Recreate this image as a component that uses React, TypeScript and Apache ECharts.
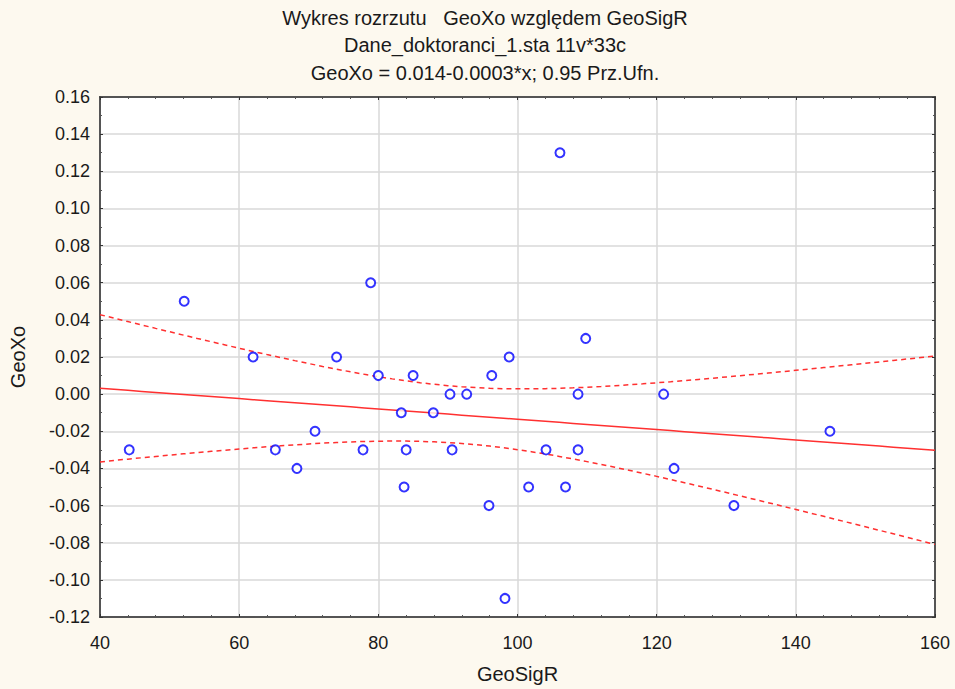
import React, { useEffect, useRef } from "react";
import * as echarts from "echarts";

// GeoSigR (x) and GeoXo (y) for the 33 cases
const geoSigR = [
  44.2, 52.1, 62.0, 65.2, 68.3, 70.9, 74.0, 77.8, 78.9, 80.0, 83.3, 83.7, 84.0, 85.0, 87.9, 90.3, 90.6,
  92.7, 95.9, 96.3, 98.2, 98.8, 101.6, 104.1, 106.1, 106.9, 108.7, 108.7, 109.8, 121.0, 122.5, 131.1, 144.9,
];
const geoXo = [
  -0.03, 0.05, 0.02, -0.03, -0.04, -0.02, 0.02, -0.03, 0.06, 0.01, -0.01, -0.05, -0.03, 0.01, -0.01, 0.0, -0.03,
  0.0, -0.06, 0.01, -0.11, 0.02, -0.05, -0.03, 0.13, -0.05, 0.0, -0.03, 0.03, 0.0, -0.04, -0.06, -0.02,
];

const titleLines = [
  "Wykres rozrzutu   GeoXo względem GeoSigR",
  "Dane_doktoranci_1.sta 11v*33c",
  "GeoXo = 0.014-0.0003*x; 0.95 Prz.Ufn.",
];

const X_MIN = 40;
const X_MAX = 160;
const Y_MIN = -0.12;
const Y_MAX = 0.16;
const T_975 = 2.0395; // Student t, 31 degrees of freedom

const FONT = "'Liberation Sans', Arial, sans-serif";

// Least-squares line with its 95% confidence band for the mean
function fit() {
  const n = geoSigR.length;
  const mx = geoSigR.reduce((a, b) => a + b, 0) / n;
  const my = geoXo.reduce((a, b) => a + b, 0) / n;
  let sxx = 0;
  let sxy = 0;
  for (let i = 0; i < n; i++) {
    sxx += (geoSigR[i] - mx) ** 2;
    sxy += (geoSigR[i] - mx) * (geoXo[i] - my);
  }
  const b = sxy / sxx;
  const a = my - b * mx;
  let sse = 0;
  for (let i = 0; i < n; i++) sse += (geoXo[i] - a - b * geoSigR[i]) ** 2;
  const s = Math.sqrt(sse / (n - 2));
  const line: number[][] = [];
  const upper: number[][] = [];
  const lower: number[][] = [];
  for (let x = X_MIN; x <= X_MAX + 1e-9; x += 2) {
    const yh = a + b * x;
    const hw = T_975 * s * Math.sqrt(1 / n + (x - mx) ** 2 / sxx);
    line.push([x, yh]);
    upper.push([x, yh + hw]);
    lower.push([x, yh - hw]);
  }
  return { line, upper, lower };
}

export default function App() {
  const ref = useRef<HTMLDivElement>(null);

  useEffect(() => {
    if (!ref.current) return;
    const chart = echarts.init(ref.current, null, { renderer: "svg" });
    const { line, upper, lower } = fit();
    const pts = geoSigR.map((x, i) => [x, geoXo[i]]);

    const frameLine = { show: true, onZero: false, lineStyle: { color: "#333", width: 1.5 } };
    const frameTick = { show: true, inside: true, length: 3, lineStyle: { color: "#333", width: 1 } };

    chart.setOption({
      animation: false,
      backgroundColor: "#fdf9ef",
      textStyle: { fontFamily: FONT },
      title: {
        text: titleLines.join("\n"),
        left: 485,
        top: 4,
        padding: 0,
        textAlign: "center",
        textStyle: { fontFamily: FONT, fontSize: 20, fontWeight: "normal", color: "#1a1a1a", lineHeight: 27.5 },
      },
      grid: {
        left: 100,
        top: 97,
        width: 835,
        height: 525,
        show: true,
        backgroundColor: "#ffffff",
        borderColor: "#333",
        borderWidth: 1.5,
      },
      xAxis: [
        {
          type: "value",
          min: X_MIN,
          max: X_MAX,
          interval: 20,
          name: "GeoSigR",
          nameLocation: "middle",
          nameGap: 47,
          nameTextStyle: { fontFamily: FONT, fontSize: 20, color: "#1a1a1a" },
          axisLine: frameLine,
          axisTick: frameTick,
          minorTick: { show: true, splitNumber: 5, length: 2, lineStyle: { color: "#555" } },
          axisLabel: { fontFamily: FONT, fontSize: 18, color: "#1a1a1a", margin: 17 },
          splitLine: { show: true, lineStyle: { color: "#d9d9d9", width: 1.5 } },
        },
        {
          type: "value",
          position: "top",
          min: X_MIN,
          max: X_MAX,
          interval: 20,
          axisLine: frameLine,
          axisTick: frameTick,
          minorTick: { show: true, splitNumber: 5, length: 2, lineStyle: { color: "#555" } },
          axisLabel: { show: false },
          splitLine: { show: false },
        },
      ],
      yAxis: [
        {
          type: "value",
          min: Y_MIN,
          max: Y_MAX,
          interval: 0.02,
          name: "GeoXo",
          nameLocation: "middle",
          nameGap: 72,
          nameTextStyle: { fontFamily: FONT, fontSize: 20, color: "#1a1a1a" },
          axisLine: frameLine,
          axisTick: frameTick,
          minorTick: { show: true, splitNumber: 2, length: 2, lineStyle: { color: "#555" } },
          axisLabel: {
            fontFamily: FONT,
            fontSize: 18,
            color: "#1a1a1a",
            margin: 10,
            formatter: (v: number) => (Math.abs(v) < 1e-9 ? "0.00" : v.toFixed(2)),
          },
          splitLine: { show: true, lineStyle: { color: "#d9d9d9", width: 1.5 } },
        },
        {
          type: "value",
          position: "right",
          min: Y_MIN,
          max: Y_MAX,
          interval: 0.02,
          axisLine: frameLine,
          axisTick: frameTick,
          minorTick: { show: true, splitNumber: 2, length: 2, lineStyle: { color: "#555" } },
          axisLabel: { show: false },
          splitLine: { show: false },
        },
      ],
      series: [
        {
          type: "line",
          data: line,
          symbol: "none",
          lineStyle: { color: "#ff3030", width: 1.5 },
          z: 3,
        },
        {
          type: "line",
          data: upper,
          symbol: "none",
          lineStyle: { color: "#ff3030", width: 1.5, type: [5, 4] },
          z: 3,
        },
        {
          type: "line",
          data: lower,
          symbol: "none",
          lineStyle: { color: "#ff3030", width: 1.5, type: [5, 4] },
          z: 3,
        },
        {
          type: "scatter",
          data: pts,
          symbol: "circle",
          symbolSize: 9,
          itemStyle: { color: "#ffffff", borderColor: "#0000ff", borderWidth: 2 },
          z: 4,
        },
      ],
    });

    return () => chart.dispose();
  }, []);

  return (
    <div
      ref={ref}
      style={{ position: "absolute", left: 0, top: 0, width: 955, height: 689 }}
    />
  );
}
